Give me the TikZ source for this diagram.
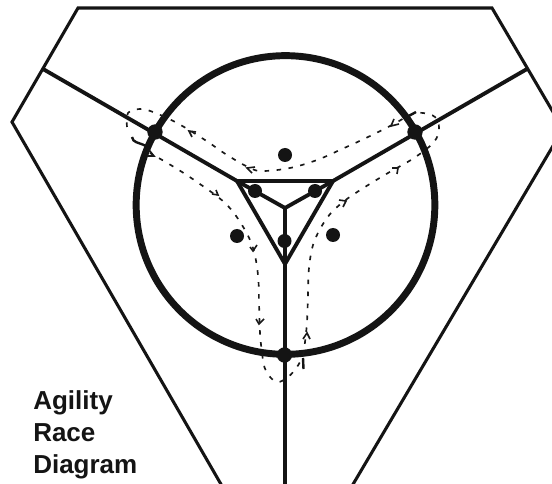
\documentclass[tikz,border=0pt]{standalone}
\usepackage{fontspec}
\setmainfont{Liberation Sans}
\tikzset{
  px/.style={x=0.75pt,y=-0.75pt},
  thinline/.style={line width=2.3pt,black!92},
  midline/.style={line width=2.9pt,black!92},
  dot/.style={circle,fill=black!92,inner sep=0pt,minimum size=11.5pt},
  smalldot/.style={circle,fill=black!92,inner sep=0pt,minimum size=10.5pt},
  route/.style={line width=1.25pt,black!90,dash pattern=on 3.4pt off 5.6pt},
  tip/.style={line width=1.2pt,black!90,line join=miter},
  tick/.style={line width=1.8pt,black!92},
  label/.style={font=\bfseries\fontsize{19.5}{25}\selectfont,anchor=base west,inner sep=0pt,text=black!92}
}
\begin{document}
\begin{tikzpicture}[px]
\useasboundingbox (0,0) rectangle (552,484);
\fill[white] (0,0) rectangle (552,484);
\begin{scope}
\clip (0,0) rectangle (552,484);
% outer boundary
\draw[thinline,line join=miter] (222,486) -- (12,122) -- (78,8) -- (492,8) -- (563,129) -- (352,486);
% ring
\node[circle,draw=black!92,line width=5.2pt,minimum size=224pt,inner sep=0pt] (ring) at (285.5,205) {};
% coordinates
\coordinate (tl) at (237,181);
\coordinate (tr) at (333,181);
\coordinate (tb) at (285,264);
\coordinate (c) at (285,208);
\coordinate (ol) at (43,69);
\coordinate (or) at (527,69);
\coordinate (ob) at (285,484);
% structure
\draw[midline,line join=miter] (tl) -- (tr) -- (tb) -- cycle;
\draw[midline] (c) -- (tl) (c) -- (tr) (c) -- (tb);
\draw[midline] (tl) -- (ol) (tr) -- (or) (tb) -- (ob);
% dots
\node[dot] (jl) at (155,132) {};
\node[dot] (jr) at (415,132) {};
\node[dot] (jb) at (284.5,355) {};
\node[smalldot] (a) at (255,191) {};
\node[smalldot] (b) at (315,191) {};
\node[smalldot] (d) at (284.5,241) {};
\node[smalldot] (e) at (285,155) {};
\node[smalldot] (f) at (237,236) {};
\node[smalldot] (g) at (333,235) {};
% route
\draw[route] plot[smooth,tension=0.6] coordinates {(127,127) (128,113) (140,109) (153,112) (177,123) (205,140) (227,155) (250,168) (263,171) (290,168) (317,160) (342,149) (366,138) (392,125) (412,114) (423,113) (435,117) (439,128) (434,142) (414,158) (388,173) (365,187) (343,202) (327,218) (314,242) (309,268) (308,294) (307,322) (305,342) (303,355) (297,367) (288,377) (277,382) (267,373) (263,360) (260,333) (259,302) (258,275) (253,248) (242,225) (225,203) (197,182) (174,167) (150,153)};
% arrow tips
\draw[tip] (149,150) -- (154,156) -- (147,156);
\draw[tip] (196,132) -- (189,131) -- (192,137);
\draw[tip] (255,167) -- (247,168) -- (252,173);
\draw[tip] (212,194) -- (218,195) -- (216,190);
\draw[tip] (250,247) -- (253,251) -- (257,245);
\draw[tip] (256,319) -- (259,324) -- (264,319);
\draw[tip] (303,339) -- (307,333) -- (310,339);
\draw[tip] (339,200) -- (346,201) -- (343,207);
\draw[tip] (392,168) -- (398,168) -- (397,174);
\draw[tip] (394,119) -- (391,126) -- (399,124);
% small marks
\draw[tick] (416,112) -- (407,117);
\draw[tick] (303,358) -- (303.5,369);
\draw[tick] (132,137) .. controls (133,143) and (138,142) .. (146,146);
\end{scope}
% text
\node[label] (t1) at (33,409) {Agility};
\node[label] (t2) at (33,441) {Race};
\node[label] (t3) at (33,473) {Diagram};
\end{tikzpicture}
\end{document}
